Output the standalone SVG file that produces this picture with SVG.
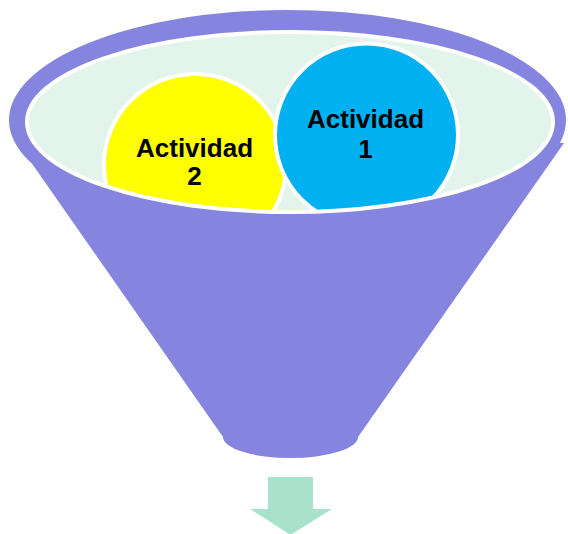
<svg xmlns="http://www.w3.org/2000/svg" width="568" height="534" viewBox="0 0 568 534">
  <style>
    .funnel { fill: #8585DF; }
    .label { font-family: "Liberation Sans", Arial, sans-serif; font-weight: bold; font-size: 26px; fill: #000000; text-anchor: middle; }
    .circle { stroke: #FFFFFF; stroke-width: 4; }
  </style>
  <defs>
    <clipPath id="innerClip">
      <ellipse cx="290" cy="122" rx="263" ry="90"/>
    </clipPath>
  </defs>
  <rect width="568" height="534" fill="#FFFFFF"/>
  <g id="funnel">
    <ellipse class="funnel" cx="287.5" cy="120" rx="278.5" ry="110"/>
    <polygon class="funnel" points="12,135 564,143 358,437 223,437"/>
    <ellipse class="funnel" cx="290.5" cy="437" rx="67.5" ry="21"/>
    <ellipse cx="290" cy="122" rx="263" ry="90" fill="#E3F4EC"/>
  </g>
  <g clip-path="url(#innerClip)">
    <g id="actividad2">
      <circle class="circle" cx="195" cy="165" r="91" fill="#FFFF00"/>
      <text class="label" x="194.5" y="157">Actividad</text>
      <text class="label" x="194.5" y="185">2</text>
    </g>
    <g id="actividad1">
      <circle class="circle" cx="366.5" cy="135" r="91.5" fill="#00B0F0"/>
      <text class="label" x="365.5" y="128">Actividad</text>
      <text class="label" x="365.5" y="158">1</text>
    </g>
  </g>
  <ellipse cx="290" cy="122" rx="263" ry="90" fill="none" stroke="#FFFFFF" stroke-width="4"/>
  <g id="arrow">
    <polygon points="268,477 313,477 313,509 332,509 290.5,535 250,509 268,509" fill="#A9E2CB"/>
  </g>
</svg>
